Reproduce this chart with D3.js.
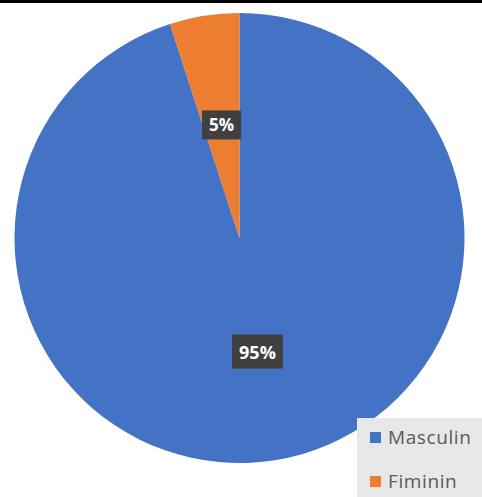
<html>
<head>
<script src="https://d3js.org/d3.v7.min.js"></script>
<style>
  body { margin: 0; background: #fff; font-family: "Open Sans", "Liberation Sans", sans-serif; }
</style>
</head>
<body>
<svg width="482" height="497"></svg>
<script>
// chart data
var categories = ["Masculin", "Fiminin"];
var values = [95, 5];
var labels = ["95%", "5%"];
var colors = ["#4472C4", "#ED7D31"];

var svg = d3.select("svg");
var cx = 239.5, cy = 238, radius = 225;

// thin dark line along the top edge
svg.append("rect").attr("x", 0).attr("y", 0).attr("width", 482).attr("height", 3).attr("fill", "#000");

var pie = d3.pie().sort(null).value(function(d) { return d; });
var arcs = pie(values);

var arc = d3.arc().innerRadius(0).outerRadius(radius);
var labelArc = d3.arc().innerRadius(radius * 0.51).outerRadius(radius * 0.51);

var g = svg.append("g").attr("transform", "translate(" + cx + "," + cy + ")");

g.selectAll("path")
  .data(arcs)
  .enter()
  .append("path")
  .attr("d", arc)
  .attr("fill", function(d, i) { return colors[i]; });

// data labels with dark boxes
var lab = g.selectAll(".lab")
  .data(arcs)
  .enter()
  .append("g")
  .attr("class", "lab")
  .attr("transform", function(d) { var c = labelArc.centroid(d); return "translate(" + c[0] + "," + c[1] + ")"; });

lab.append("text")
  .attr("text-anchor", "middle")
  .attr("dy", "0.4em")
  .attr("fill", "#fff")
  .attr("font-weight", "bold")
  .attr("font-size", function(d, i) { return i == 0 ? "18px" : "17px"; })
  .text(function(d, i) { return labels[i]; });

lab.each(function(d, i) {
  var t = d3.select(this).select("text");
  var bb = t.node().getBBox();
  var padX = 7, padY = i == 0 ? 5 : 3;
  d3.select(this).insert("rect", "text")
    .attr("x", bb.x - padX)
    .attr("y", bb.y - padY)
    .attr("width", bb.width + 2 * padX)
    .attr("height", bb.height + 2 * padY)
    .attr("fill", "#404040");
});

// legend
var legend = svg.append("g");
legend.append("rect")
  .attr("x", 357).attr("y", 418)
  .attr("width", 125).attr("height", 79)
  .attr("fill", "#e7e7e7");

var ly = d3.scalePoint().domain(categories).range([437, 481]);

legend.selectAll(".sw")
  .data(categories)
  .enter()
  .append("rect")
  .attr("x", 370)
  .attr("y", function(d) { return ly(d) - 5; })
  .attr("width", 11).attr("height", 11)
  .attr("fill", function(d, i) { return colors[i]; });

legend.selectAll(".lt")
  .data(categories)
  .enter()
  .append("text")
  .attr("x", 388)
  .attr("y", function(d) { return ly(d); })
  .attr("dy", "0.35em")
  .attr("font-size", "19px")
  .attr("letter-spacing", "0.6px")
  .attr("fill", "#595959")
  .text(function(d) { return d; });
</script>
</body>
</html>
